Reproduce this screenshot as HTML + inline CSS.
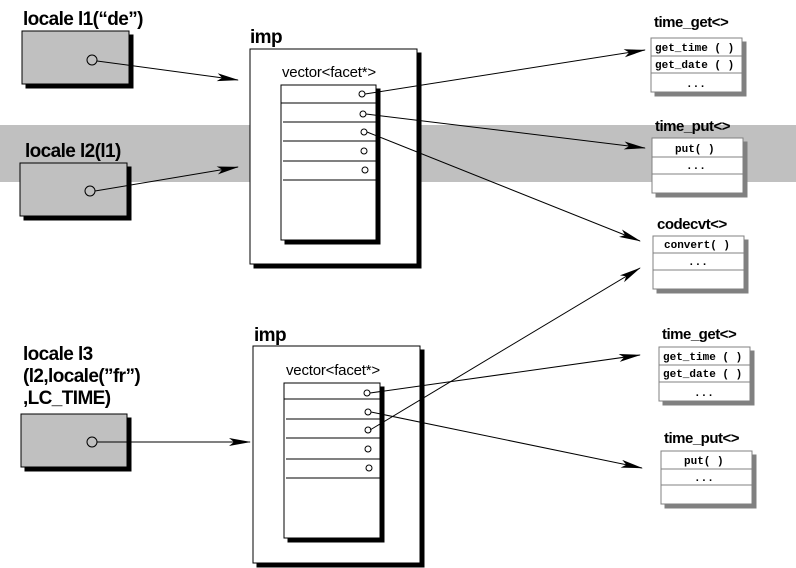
<!DOCTYPE html>
<html><head><style>
body{margin:0;background:#fff}
svg{display:block}
.t{font-family:"Liberation Sans",sans-serif;font-weight:bold;font-size:19px;letter-spacing:-0.6px}
.m{font-family:"Liberation Mono",monospace;font-weight:bold;font-size:11px}
.s{font-family:"Liberation Sans",sans-serif;font-size:15px;letter-spacing:-0.2px}
</style></head><body>
<svg width="796" height="568" viewBox="0 0 796 568" xmlns="http://www.w3.org/2000/svg">
<defs><marker id="a" markerWidth="22" markerHeight="10" refX="21" refY="5" orient="auto" markerUnits="userSpaceOnUse"><path d="M0,1 L22,5 L0,9 L5,5 Z" fill="#000"/></marker></defs>
<rect x="0" y="125" width="796" height="57" fill="#c0c0c0"/>
<g stroke="#000">
<rect x="26" y="35" width="107" height="53" fill="#000"/><rect x="22" y="31" width="107" height="53" fill="#c0c0c0"/>
<rect x="24" y="167" width="107" height="53" fill="#000"/><rect x="20" y="163" width="107" height="53" fill="#c0c0c0"/>
<rect x="25" y="418" width="106" height="53" fill="#000"/><rect x="21" y="414" width="106" height="53" fill="#c0c0c0"/>
<circle cx="92" cy="60" r="5" fill="none"/><circle cx="90" cy="191" r="5" fill="none"/><circle cx="92" cy="442" r="5" fill="none"/>
</g>
<text class="t" x="23" y="25">locale l1(“de”)</text>
<text class="t" x="25" y="157">locale l2(l1)</text>
<text class="t" x="23" y="360">locale l3</text>
<text class="t" x="23" y="382">(l2,locale(”fr”)</text>
<text class="t" x="23" y="404">,LC_TIME)</text>
<g stroke="#000" fill="#fff">
<rect x="254" y="53" width="167" height="215" fill="#000"/><rect x="250" y="49" width="167" height="215"/>
<rect x="285" y="89" width="95" height="155" fill="#000"/><rect x="281" y="85" width="95" height="155"/>
<path d="M281,103H376M283,122H376M283,141H376M283,161H376M283,180H376" fill="none"/>
<circle cx="362" cy="94" r="3"/><circle cx="363" cy="114" r="3"/><circle cx="364" cy="132" r="3"/><circle cx="364" cy="151" r="3"/><circle cx="365" cy="170" r="3"/>
</g>
<text class="t" x="250" y="43">imp</text>
<text class="s" x="282" y="77">vector&lt;facet*&gt;</text>
<g stroke="#000" fill="#fff">
<rect x="257" y="350" width="167" height="217" fill="#000"/><rect x="253" y="346" width="167" height="217"/>
<rect x="288" y="387" width="96" height="155" fill="#000"/><rect x="284" y="383" width="96" height="155"/>
<path d="M284,399H380M286,419H380M286,438H380M286,459H380M286,478H380" fill="none"/>
<circle cx="367" cy="393" r="3"/><circle cx="368" cy="412" r="3"/><circle cx="368" cy="430" r="3"/><circle cx="368" cy="449" r="3"/><circle cx="369" cy="468" r="3"/>
</g>
<text class="t" x="254" y="341">imp</text>
<text class="s" x="286" y="375">vector&lt;facet*&gt;</text>
<g stroke="#808080" fill="#fff">
<rect x="655" y="42" width="91" height="54" fill="#808080"/><rect x="651" y="38" width="91" height="54"/><path d="M651,56H742M651,73H742"/>
<rect x="656" y="142" width="91" height="55" fill="#808080"/><rect x="652" y="138" width="91" height="55"/><path d="M652,157H743M652,174H743"/>
<rect x="657" y="240" width="91" height="53" fill="#808080"/><rect x="653" y="236" width="91" height="53"/><path d="M653,253H744M653,270H744"/>
<rect x="663" y="351" width="91" height="54" fill="#808080"/><rect x="659" y="347" width="91" height="54"/><path d="M659,365H750M659,382H750"/>
<rect x="665" y="455" width="91" height="53" fill="#808080"/><rect x="661" y="451" width="91" height="53"/><path d="M661,469H752M661,485H752"/>
</g>
<g class="t" style="font-size:15px;letter-spacing:-0.5px">
<text x="654" y="27">time_get&lt;&gt;</text><text x="655" y="131">time_put&lt;&gt;</text><text x="657" y="229">codecvt&lt;&gt;</text>
<text x="662" y="339">time_get&lt;&gt;</text><text x="664" y="443">time_put&lt;&gt;</text>
</g>
<g class="m">
<text x="655" y="51">get_time ( )</text><text x="655" y="68">get_date ( )</text><text x="686" y="87">...</text>
<text x="675" y="152">put( )</text><text x="686" y="169">...</text>
<text x="664" y="248">convert( )</text><text x="688" y="265">...</text>
<text x="663" y="360">get_time ( )</text><text x="663" y="377">get_date ( )</text><text x="694" y="396">...</text>
<text x="684" y="464">put( )</text><text x="694" y="481">...</text>
</g>
<g stroke="#000" stroke-width="1" fill="none" marker-end="url(#a)">
<path d="M97,61L238,80"/><path d="M95,191L238,167"/><path d="M97,442L250,442"/>
<path d="M365,94L645,50"/><path d="M366,114L645,148"/><path d="M367,132L640,241"/>
<path d="M370,393L640,355"/><path d="M371,412L642,468"/><path d="M370,430L640,268"/>
</g>
</svg>
</body></html>
